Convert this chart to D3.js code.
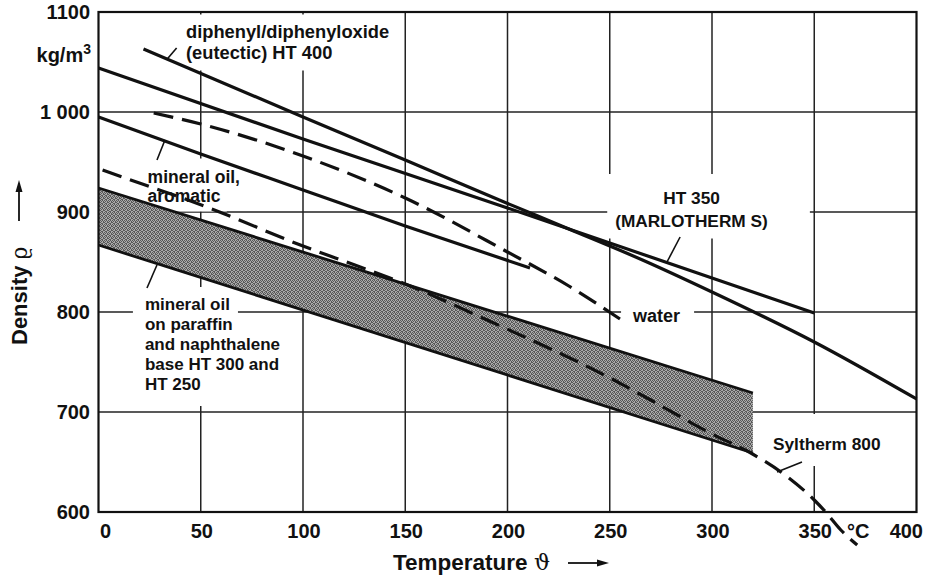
<!DOCTYPE html>
<html>
<head>
<meta charset="utf-8">
<script src="https://cdn.jsdelivr.net/npm/d3@7"></script>
<style>
  body { margin: 0; background: #fff; }
  svg { display: block; }
  text { font-family: "Liberation Sans", Arial, Helvetica, sans-serif; font-weight: bold; fill: #111; }
</style>
</head>
<body>
<svg id="chart" width="931" height="578"></svg>
<script>
// ---- axis ticks ----
const tempTicks = [0, 50, 100, 150, 200, 250, 300, 350, 400];
const tempTickLabels = ["0", "50", "100", "150", "200", "250", "300", "350", "400"];
const densTicks = [600, 700, 800, 900, 1000, 1100];
const densTickLabels = ["600", "700", "800", "900", "1 000", "1100"];

// ---- density curves (temperature in °C, density in kg/m³) ----
// diphenyl/diphenyloxide eutectic, HT 400
const diphenylT   = [22, 100, 150, 196, 230, 266, 300, 350, 400];
const diphenylRho = [1063, 995, 952, 912, 883, 852, 820, 770, 713];
// HT 350 (MARLOTHERM S)
const ht350T   = [0, 100, 200, 300, 350];
const ht350Rho = [1044, 973, 904, 834, 799];
// aromatic mineral oil
const aromaticT   = [0, 50, 100, 150, 211];
const aromaticRho = [995, 958, 922, 886, 844];
// water
const waterT   = [27, 50, 100, 150, 200, 230, 255];
const waterRho = [999, 988, 956, 914, 860, 826, 793];
// Syltherm 800
const sylthermT   = [2, 20, 53, 100, 128, 150, 190, 252, 270, 300, 319, 337, 350, 356, 363, 371];
const sylthermRho = [942, 929, 905, 866, 845, 828, 792, 732, 712, 678, 659, 635, 612, 599, 582, 567];
// mineral oils on paraffin and naphthalene base (HT 300, HT 250): density range
const bandT    = [0, 320];
const bandLow  = [867, 659];
const bandHigh = [924, 719];

// ---- layout ----
const svg = d3.select("#chart");
const x = d3.scaleLinear().domain([0, 400]).range([98.5, 916.5]);
const y = d3.scaleLinear().domain([600, 1100]).range([512, 12]);

const ink = "#111";

// fine stipple fill for the paraffin/naphthalene band
const defs = svg.append("defs");
const pat = defs.append("pattern").attr("id", "stipple")
  .attr("width", 4).attr("height", 4).attr("patternUnits", "userSpaceOnUse");
pat.append("rect").attr("width", 4).attr("height", 4).attr("fill", "#a9a9a9");
[[0, 0], [2, 0], [1, 1], [3, 1], [0, 2], [3, 2], [1, 3], [2, 3]].forEach(([px, py]) =>
  pat.append("rect").attr("x", px).attr("y", py).attr("width", 1).attr("height", 1).attr("fill", "#585858"));

// ---- grid ----
const grid = svg.append("g").attr("stroke", "#222").attr("stroke-width", 1.5);
grid.selectAll("line.v").data(tempTicks.slice(1, -1)).join("line")
  .attr("x1", d => x(d)).attr("x2", d => x(d))
  .attr("y1", y(600)).attr("y2", y(1100));
grid.selectAll("line.h").data(densTicks.slice(1, -1)).join("line")
  .attr("x1", x(0)).attr("x2", x(400))
  .attr("y1", d => y(d)).attr("y2", d => y(d));

// ---- curve annotations ----
const notes = [
  { lines: ["diphenyl/diphenyloxide", "(eutectic) HT 400"], at: [42.8, 1074.5], size: 18.3, lh: 21, anchor: "start", pad: [6, 6, 6, 8] },
  { lines: ["mineral oil,", "aromatic"], at: [24, 929.5], size: 17.5, lh: 19, anchor: "start", pad: [4, 6, 8, 6] },
  { lines: ["mineral oil", "on paraffin", "and naphthalene", "base HT 300 and", "HT 250"], at: [22.7, 802], size: 17, lh: 20, anchor: "start", pad: [12, 8, 8, 12] },
  { lines: ["HT 350", "(MARLOTHERM S)"], at: [290, 908], size: 17.3, lh: 22.5, anchor: "middle", pad: [8, 42, 14, 8], block: true },
  { lines: ["water"], at: [261.4, 790.5], size: 18, lh: 20, anchor: "start", pad: [11, 14, 4, 4] },
  { lines: ["Syltherm 800"], at: [329.8, 662], size: 17.3, lh: 20, anchor: "start", pad: [8, 8, 20, 12] }
];
const leaders = [
  [[33.3, 1052.3], [38.2, 1064]],
  [[28.6, 952], [32.5, 972]],
  [[23.7, 824], [28.6, 847]],
  [[278, 850], [284.4, 875]],
  [[331.8, 640], [344, 650]]
];

const maskLayer = svg.append("g");
const plotLayer = svg.append("g");
const textLayer = svg.append("g");

notes.forEach(n => {
  const x0 = x(n.at[0]), y0 = y(n.at[1]);
  const boxes = n.lines.map((s, i) => {
    const t = textLayer.append("text")
      .attr("x", x0).attr("y", y0 + i * n.lh)
      .attr("text-anchor", n.anchor)
      .style("font-size", n.size + "px")
      .text(s);
    return t.node().getBBox();
  });
  const addMask = (x1, y1, x2, y2) => maskLayer.append("rect")
    .attr("x", x1).attr("y", y1).attr("width", x2 - x1).attr("height", y2 - y1).attr("fill", "#fff");
  if (n.block) {
    const xs1 = d3.min(boxes, b => b.x), xs2 = d3.max(boxes, b => b.x + b.width);
    const ys1 = d3.min(boxes, b => b.y), ys2 = d3.max(boxes, b => b.y + b.height);
    addMask(xs1 - n.pad[0], ys1 - n.pad[2], xs2 + n.pad[1], ys2 + n.pad[3]);
  } else {
    boxes.forEach((b, i) => {
      const top = i === 0 ? b.y - n.pad[2] : y0 + (i - 1) * n.lh + 3;
      const bottom = i === boxes.length - 1 ? b.y + b.height + n.pad[3] : y0 + i * n.lh + 5;
      addMask(b.x - n.pad[0], top, b.x + b.width + n.pad[1], bottom);
    });
  }
});

textLayer.selectAll("line.leader").data(leaders).join("line")
  .attr("x1", d => x(d[0][0])).attr("y1", d => y(d[0][1]))
  .attr("x2", d => x(d[1][0])).attr("y2", d => y(d[1][1]))
  .attr("stroke", ink).attr("stroke-width", 1.6);

// ---- band ----
const bandData = bandT.map((t, i) => ({ t, lo: bandLow[i], hi: bandHigh[i] }));
plotLayer.append("path").datum(bandData)
  .attr("d", d3.area().x(d => x(d.t)).y0(d => y(d.lo)).y1(d => y(d.hi)))
  .attr("fill", "url(#stipple)");
[bandLow, bandHigh].forEach(arr => {
  plotLayer.append("path").datum(bandT.map((t, i) => [t, arr[i]]))
    .attr("d", d3.line().x(d => x(d[0])).y(d => y(d[1])))
    .attr("fill", "none").attr("stroke", ink).attr("stroke-width", 2.8);
});

// ---- curves ----
const line = d3.line().x(d => x(d[0])).y(d => y(d[1])).curve(d3.curveMonotoneX);
const series = [
  { t: diphenylT, r: diphenylRho, dash: null },
  { t: ht350T, r: ht350Rho, dash: null },
  { t: aromaticT, r: aromaticRho, dash: null },
  { t: waterT, r: waterRho, dash: "20,9" },
  { t: sylthermT, r: sylthermRho, dash: "20,9" }
];
series.forEach(s => {
  plotLayer.append("path").datum(s.t.map((t, i) => [t, s.r[i]]))
    .attr("d", line)
    .attr("fill", "none").attr("stroke", ink).attr("stroke-width", 3.2)
    .attr("stroke-dasharray", s.dash);
});

// ---- frame ----
svg.append("rect")
  .attr("x", x(0)).attr("y", y(1100))
  .attr("width", x(400) - x(0)).attr("height", y(600) - y(1100))
  .attr("fill", "none").attr("stroke", ink).attr("stroke-width", 2.2);

// ---- tick labels ----
svg.append("g").selectAll("text").data(densTicks).join("text")
  .attr("x", 90).attr("y", d => y(d) + 7)
  .attr("text-anchor", "end").style("font-size", "20px")
  .text((d, i) => densTickLabels[i]);

svg.append("g").selectAll("text").data(tempTicks).join("text")
  .attr("x", (d, i) => i === 0 ? x(d) + 1.5 : i === tempTicks.length - 1 ? x(d) + 6.5 : x(d) + 1)
  .attr("y", 538)
  .attr("text-anchor", (d, i) => i === 0 ? "start" : i === tempTicks.length - 1 ? "end" : "middle")
  .style("font-size", "20px")
  .text((d, i) => tempTickLabels[i]);

svg.append("text").attr("x", 847).attr("y", 538).style("font-size", "20px").text("°C");

// unit
const unit = svg.append("text").attr("x", 91).attr("y", 62).attr("text-anchor", "end").style("font-size", "20px");
unit.append("tspan").text("kg/m");
unit.append("tspan").attr("dy", -8).style("font-size", "14px").text("3");

// ---- axis titles ----
const xt = svg.append("text").attr("x", 393).attr("y", 570).style("font-size", "22.5px");
xt.append("tspan").text("Temperature ");
xt.append("tspan").style("font-family", "'DejaVu Serif', serif").style("font-weight", "normal").text("ϑ");
svg.append("line").attr("x1", 568).attr("x2", 598).attr("y1", 563).attr("y2", 563)
  .attr("stroke", ink).attr("stroke-width", 1.8);
svg.append("path").attr("d", "M597,559.5 L609,563 L597,566.5 Z").attr("fill", ink);

const yt = svg.append("text").attr("transform", "translate(27,345) rotate(-90)").style("font-size", "22px");
yt.append("tspan").text("Density ");
yt.append("tspan").style("font-family", "'DejaVu Serif', serif").style("font-weight", "normal").text("ϱ");
svg.append("line").attr("x1", 19).attr("x2", 19).attr("y1", 221).attr("y2", 191)
  .attr("stroke", ink).attr("stroke-width", 1.8);
svg.append("path").attr("d", "M15.5,192 L19,180 L22.5,192 Z").attr("fill", ink);
</script>
</body>
</html>
